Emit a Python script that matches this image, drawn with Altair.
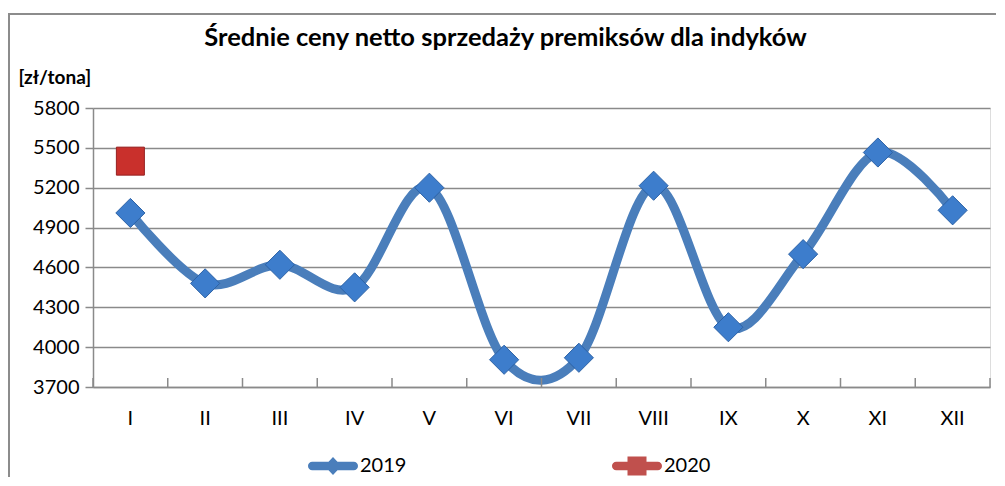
import altair as alt
import pandas as pd

title_text = "Średnie ceny netto  sprzedaży premiksów dla indyków"
months = ["I", "II", "III", "IV", "V", "VI", "VII", "VIII", "IX", "X", "XI", "XII"]
values_2019 = [5010, 4480, 4620, 4450, 5200, 3905, 3920, 5215, 4150, 4700, 5465, 5030]
months_2020 = ["I"]
values_2020 = [5400]
years = ["2019", "2020"]
y_ticks = [3700, 4000, 4300, 4600, 4900, 5200, 5500, 5800]

FONT = "Lato"
BLUE = "#4a7ebb"
RED = "#c0504d"
GRID = "#8a8a8a"
W, H = 897, 279

df19 = pd.DataFrame({"month": months, "value": values_2019, "year": "2019"})
df20 = pd.DataFrame({"month": months_2020, "value": values_2020, "year": "2020"})
df_months = pd.DataFrame({"month": months})
df_last = pd.DataFrame({"month": months[-1:]})
df_years = pd.DataFrame({"year": years})
df_one = pd.DataFrame({"t": [title_text]})

xscale = alt.Scale(type="band", domain=months, paddingInner=0, paddingOuter=0)
yscale = alt.Scale(domain=[3700, 5800], nice=False, zero=False)

x_axis = alt.Axis(
    title=None, labelAngle=0, labelFont=FONT, labelFontSize=20, labelColor="#000",
    labelPadding=21, ticks=False, domainColor=GRID, domainWidth=1.5, grid=False,
)
y_axis = alt.Axis(
    values=y_ticks, format="d", labelOverlap=False,
    title="[zł/tona]", titleAngle=0, titleX=-75, titleY=-31,
    titleAlign="left", titleBaseline="middle", titleFont=FONT, titleFontSize=19,
    titleFontWeight="bold", titleColor="#000",
    labelFont=FONT, labelFontSize=20, labelColor="#000", labelPadding=6,
    tickSize=8, tickColor=GRID, tickWidth=1.5, grid=True, gridColor=GRID,
    gridWidth=1.5, domainColor=GRID, domainWidth=1.5,
)
x_enc = alt.X("month:N", sort=months, scale=xscale, axis=x_axis)
y_enc = alt.Y("value:Q", scale=yscale, axis=y_axis)

line = alt.Chart(df19).mark_line(
    interpolate="cardinal", strokeWidth=9, color=BLUE, strokeCap="round"
).encode(x=x_enc, y=y_enc)

pts19 = alt.Chart(df19).mark_point(
    shape="diamond", filled=True, size=850, fill="#3d7dcc", stroke="#2c62a6",
    strokeWidth=1, opacity=1,
).encode(x=x_enc, y=y_enc)

pts20 = alt.Chart(df20).mark_point(
    shape="square", filled=True, size=784, fill="#c9302c", stroke="#962020",
    strokeWidth=1, opacity=1,
).encode(x=x_enc, y=y_enc)

ticks = alt.Chart(df_months).mark_rule(color=GRID, strokeWidth=1.5).encode(
    x=alt.X("month:N", sort=months, scale=xscale, axis=x_axis, bandPosition=0),
    y=alt.value(H - 9), y2=alt.value(H),
)
tick_end = alt.Chart(df_last).mark_rule(color=GRID, strokeWidth=1.5).encode(
    x=alt.X("month:N", sort=months, scale=xscale, axis=x_axis, bandPosition=1),
    y=alt.value(H - 9), y2=alt.value(H),
)

# outer chart-area frame (decoration)
frame_top = alt.Chart(df_one).mark_rule(color="#8c8c8c", strokeWidth=2).encode(
    x=alt.value(-84), x2=alt.value(W + 20), y=alt.value(-94)
)
frame_left = alt.Chart(df_one).mark_rule(color="#8c8c8c", strokeWidth=2).encode(
    x=alt.value(-84), y=alt.value(-95), y2=alt.value(H + 100)
)

title = alt.Chart(df_one).mark_text(
    font=FONT, fontSize=25.5, fontWeight="bold", color="#000",
    align="center", baseline="alphabetic",
).encode(text="t:N", x=alt.value(W / 2 - 36), y=alt.value(-62))

path19 = ("M-0.83,-0.17 L0.83,-0.17 A0.17,0.17 0 0 1 0.83,0.17 L-0.83,0.17 "
          "A0.17,0.17 0 0 1 -0.83,-0.17 Z M0,-0.36 L0.34,0 L0,0.36 L-0.34,0 Z")
path20 = ("M-0.83,-0.17 L0.83,-0.17 A0.17,0.17 0 0 1 0.83,0.17 L-0.83,0.17 "
          "A0.17,0.17 0 0 1 -0.83,-0.17 Z M-0.38,-0.38 L0.38,-0.38 L0.38,0.38 L-0.38,0.38 Z")

leg = alt.Legend(
    title=None, orient="none", legendX=215, legendY=333, direction="horizontal",
    columns=2, columnPadding=205, symbolSize=2500, symbolStrokeWidth=0,
    symbolOpacity=1, labelFont=FONT, labelFontSize=20, labelColor="#000",
    labelOffset=2, padding=0,
)
legend_layer = alt.Chart(df_years).mark_point(filled=True, opacity=0).encode(
    color=alt.Color("year:N", scale=alt.Scale(domain=years, range=[BLUE, RED]), legend=leg),
    shape=alt.Shape("year:N", scale=alt.Scale(domain=years, range=[path19, path20]), legend=leg),
)

chart = alt.layer(
    frame_top, frame_left, title, line, ticks, tick_end, pts19, pts20, legend_layer
).properties(
    width=W, height=H,
    autosize=alt.AutoSizeParams(type="none"),
    padding={"left": 85, "top": 100, "right": 6, "bottom": 90},
).configure_view(stroke=None).configure_axis(labelOverlap=False).configure(background="white")

chart.save("out.html", embed_options={"renderer": "svg", "actions": False})
